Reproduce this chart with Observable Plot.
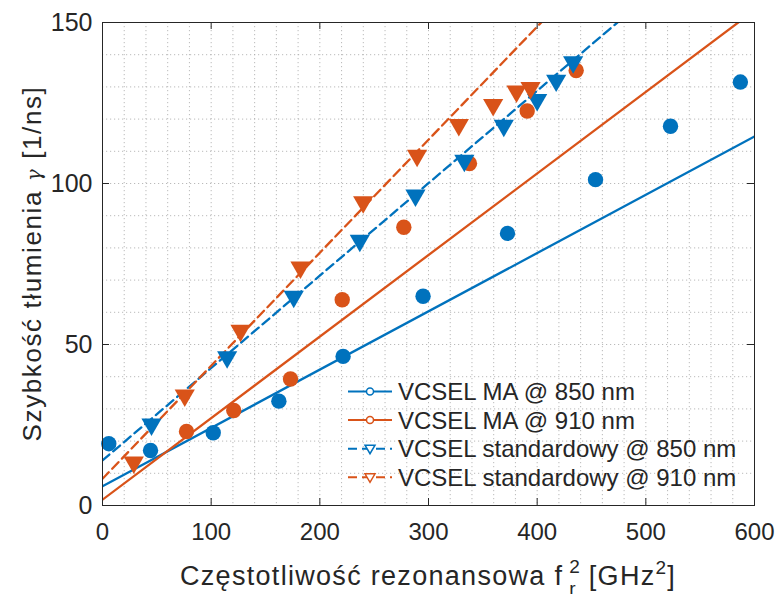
<!DOCTYPE html>
<html><head><meta charset="utf-8">
<script src="https://cdn.jsdelivr.net/npm/d3@7"></script>
<script src="https://cdn.jsdelivr.net/npm/@observablehq/plot@0.6"></script>
<style>
body{margin:0;background:#fff;}
#chart{position:relative;width:777px;height:594px;}
</style></head><body><div id="chart"></div>
<script>
// ---- data ----
const seriesNames = ["VCSEL MA @ 850 nm", "VCSEL MA @ 910 nm", "VCSEL standardowy @ 850 nm", "VCSEL standardowy @ 910 nm"];
const ma850X = [5.8, 44.2, 101.9, 162.3, 221.4, 295.0, 372.7, 453.7, 522.7, 587.0];
const ma850Y = [19.2, 17.1, 22.6, 32.4, 46.3, 65.0, 84.5, 101.2, 117.8, 131.5];
const ma910X = [77.3, 120.8, 173.0, 220.6, 277.3, 337.7, 390.8, 435.9];
const ma910Y = [23.0, 29.5, 39.3, 63.9, 86.4, 106.2, 122.5, 135.1];
const std850X = [45.1, 114.7, 176.0, 236.8, 288.0, 333.0, 369.3, 400.0, 417.5, 433.1];
const std850Y = [25.2, 46.1, 64.9, 82.3, 96.3, 107.1, 118.0, 126.0, 132.0, 137.7];
const std910X = [28.8, 75.7, 127.0, 182.2, 239.9, 289.5, 327.9, 359.5, 381.0, 393.9];
const std910Y = [13.4, 34.2, 54.3, 74.0, 94.2, 108.7, 118.2, 124.4, 128.6, 129.7];
// linear fits: y = intercept + slope * x
const fitIntercept = [6.0, 1.8, 14.0, 8.3];
const fitSlope = [0.181, 0.2533, 0.287, 0.351];
const xTicks = [0, 100, 200, 300, 400, 500, 600];
const yTicks = [0, 50, 100, 150];
const xDomain = [0, 600];
const yDomain = [0, 150];

// ---- styling ----
const colors = ["#0072BD", "#D95319", "#0072BD", "#D95319"];
const dashes = [null, null, "9,5", "9,5"];
const ink = "#262626";
const W = 777, H = 594, mL = 102, mT = 22, mR = 23, mB = 89;
const innerW = W - mL - mR, innerH = H - mT - mB;

const zip = (xs, ys) => xs.map((x, i) => ({x, y: ys[i]}));
const pts = [zip(ma850X, ma850Y), zip(ma910X, ma910Y), zip(std850X, std850Y), zip(std910X, std910Y)];
const fits = fitIntercept.map((b, k) => xDomain.map(x => ({x, y: b + fitSlope[k] * x})));

const gridStyle = {stroke: "#a8a8a8", strokeDasharray: "1.2,2.8", strokeWidth: 0.8};

const plot = Plot.plot({
  width: W, height: H, marginLeft: mL, marginTop: mT, marginRight: mR, marginBottom: mB,
  x: {domain: xDomain},
  y: {domain: yDomain},
  style: {fontFamily: "'Liberation Sans', Arial, Helvetica, sans-serif", color: ink, background: "#fff"},
  marks: [
    Plot.ruleX(d3.range(0, 601, 20), gridStyle),
    Plot.ruleY(d3.range(0, 151, 10), gridStyle),
    ...fits.map((f, k) => Plot.line(f, {x: "x", y: "y", stroke: colors[k], strokeWidth: 2.3, strokeDasharray: dashes[k], clip: true})),
    Plot.dot(pts[0], {x: "x", y: "y", r: 7.7, fill: colors[0]}),
    Plot.dot(pts[1], {x: "x", y: "y", r: 7.7, fill: colors[1]}),
    Plot.dot(pts[2], {x: "x", y: "y", r: 7.5, symbol: "triangle", rotate: 180, fill: colors[2]}),
    Plot.dot(pts[3], {x: "x", y: "y", r: 7.5, symbol: "triangle", rotate: 180, fill: colors[3]}),
    Plot.frame({stroke: ink, strokeWidth: 1}),
    Plot.tickX(xTicks, {x: d => d, insetTop: innerH - 7, stroke: ink}),
    Plot.tickX(xTicks, {x: d => d, insetBottom: innerH - 7, stroke: ink}),
    Plot.tickY(yTicks, {y: d => d, insetRight: innerW - 7, stroke: ink}),
    Plot.tickY(yTicks, {y: d => d, insetLeft: innerW - 7, stroke: ink}),
    Plot.axisX({ticks: xTicks, tickSize: 0, tickPadding: 17, fontSize: 24, label: null, fill: ink}),
    Plot.axisY({ticks: yTicks, tickSize: 0, tickPadding: 10, fontSize: 25, label: null, fill: ink})
  ]
});

document.getElementById("chart").appendChild(plot);
const svg = d3.select(plot);

// x axis label with stacked sub/superscript
const xl = svg.append("text")
  .attr("x", 180).attr("y", 585).attr("text-anchor", "start")
  .attr("fill", ink).attr("font-size", 27).attr("letter-spacing", "1.3px")
  .attr("font-family", "'Liberation Sans', Arial, sans-serif");
xl.append("tspan").text("Częstotliwość rezonansowa f");
xl.append("tspan").attr("dx", 6).attr("dy", -12).attr("font-size", 19).text("2");
xl.append("tspan").attr("dx", -12).attr("dy", 22).attr("font-size", 19).text("r");
xl.append("tspan").attr("dx", 12).attr("dy", -10).text("[GHz");
xl.append("tspan").attr("dy", -11).attr("font-size", 19).text("2");
xl.append("tspan").attr("dy", 11).text("]");

// y axis label
const yl = svg.append("text")
  .attr("transform", `translate(41,${mT + innerH / 2}) rotate(-90)`)
  .attr("text-anchor", "middle")
  .attr("fill", ink).attr("font-size", 26).attr("letter-spacing", "1.6px")
  .attr("font-family", "'Liberation Sans', Arial, sans-serif");
yl.append("tspan").text("Szybkość tłumienia ");
yl.append("tspan").attr("font-family", "'DejaVu Serif', serif").attr("font-style", "italic").attr("font-size", 20).text("γ");
yl.append("tspan").text(" [1/ns]");

// legend (no box)
const lg = svg.append("g");
seriesNames.forEach((name, i) => {
  const cy = 391.5 + i * 28.6;
  lg.append("line").attr("x1", 348).attr("x2", 392).attr("y1", cy).attr("y2", cy)
    .attr("stroke", colors[i]).attr("stroke-width", 2).attr("stroke-dasharray", dashes[i]);
  if (i < 2) {
    lg.append("circle").attr("cx", 370).attr("cy", cy).attr("r", 3.5)
      .attr("fill", "#fff").attr("stroke", colors[i]).attr("stroke-width", 1.5);
  } else {
    lg.append("path").attr("d", `M${365},${cy - 3.5}L${375},${cy - 3.5}L${370},${cy + 5}Z`)
      .attr("fill", "#fff").attr("stroke", colors[i]).attr("stroke-width", 1.5);
  }
  lg.append("text").attr("x", 398).attr("y", cy).attr("dy", "0.35em").attr("text-anchor", "start")
    .attr("font-size", 24).attr("fill", ink)
    .attr("font-family", "'Liberation Sans', Arial, sans-serif").text(name);
});
</script></body></html>
